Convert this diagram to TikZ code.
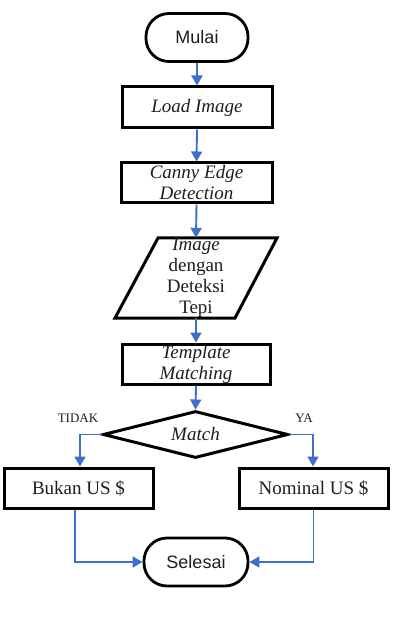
\documentclass[tikz,border=0pt]{standalone}
\usepackage{fontspec}
\setmainfont{Liberation Serif}
\setsansfont{Liberation Sans}
\usetikzlibrary{arrows.meta,shapes.geometric}
\definecolor{flowblue}{RGB}{60,112,204}
\definecolor{txt}{RGB}{30,30,30}
\begin{document}
\begin{tikzpicture}[x=1pt,y=-1pt,
  procbox/.style={draw=black,line width=3pt,minimum width=#1,minimum height=40pt,inner sep=0pt,
    font=\fontsize{19}{21}\selectfont\itshape,text=txt,align=center},
  procbox/.default=150pt,
  outbox/.style={draw=black,line width=3pt,minimum width=149pt,minimum height=40pt,inner sep=0pt,
    font=\fontsize{19}{21}\selectfont,text=txt},
  termbox/.style={draw=black,line width=2.8pt,rounded corners=23pt,minimum width=#1,minimum height=48pt,
    inner sep=0pt,font=\sffamily\fontsize{18}{20}\selectfont,text=txt},
  flow/.style={draw=flowblue,line width=1.9pt,-{Triangle[length=10pt,width=11pt]}},
  lbl/.style={font=\fontsize{13}{14}\selectfont,text=txt}]
\useasboundingbox (0,0) rectangle (402,617);
\fill[white] (0,0) rectangle (402,617);

\node[termbox=102pt] (mulai) at (197,37.5) {Mulai};
\node[procbox=150pt,minimum height=41pt] (load) at (197,107.5) {Load Image};
\node[procbox=151pt] (canny) at (196.5,183) {Canny Edge\\Detection};

% parallelogram
\draw[line width=3pt,line join=miter] (158,238) -- (277,238) -- (235,318) -- (115,318) -- cycle;
\node[minimum width=1pt,minimum height=80pt,inner sep=0pt,align=center,text=txt,
  font=\fontsize{19}{21}\selectfont] (para) at (196,278) {\textit{Image}\\dengan\\Deteksi\\Tepi};

\node[procbox=148pt] (tmpl) at (196,364) {Template\\Matching};

\node[draw=black,line width=3pt,diamond,aspect=3.9,minimum width=185pt,minimum height=47pt,inner sep=0pt,
  font=\fontsize{19}{21}\selectfont\itshape,text=txt] (match) at (195.5,434.5) {Match};

\node[outbox] (bukan) at (78.5,488) {Bukan US \$};
\node[outbox] (nominal) at (313.5,488) {Nominal US \$};

\node[termbox=104pt] (selesai) at (196,562) {Selesai};

\node[lbl] (tidak) at (78,418) {TIDAK};
\node[lbl] (ya) at (304,418) {YA};

\coordinate (lcorner) at (80,434.5);
\coordinate (rcorner) at (313,434.5);

\draw[flow] (mulai.south) -- (load.north);
\draw[flow] (load.south) -- (canny.north);
\draw[flow] (canny.south) -- (para.north);
\draw[flow] (para.south) -- (tmpl.north);
\draw[flow] (tmpl.south) -- (match.north);
\draw[flow] (match.west) -- (lcorner) -- (lcorner |- bukan.north);
\draw[flow] (match.east) -- (rcorner) -- (rcorner |- nominal.north);
\draw[flow] ([xshift=-3.5pt]bukan.south) |- (selesai.west);
\draw[flow] (nominal.south) |- (selesai.east);
\end{tikzpicture}
\end{document}
